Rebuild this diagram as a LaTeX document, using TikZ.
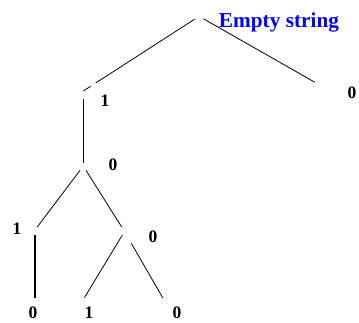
\documentclass[tikz,border=0pt]{standalone}
\usepackage{fontspec}
\setmainfont{Liberation Serif}
\usepackage{tikz}
\tikzset{point/.style = {inner sep = 0pt, minimum size = 0pt}}
\tikzset{lbl/.style = {anchor = base, inner sep = 0pt, font = \fontsize{17.5}{18}\selectfont\bfseries}}
\tikzset{edge/.style = {-, line width = 0.8pt}}
\tikzset{stem/.style = {-, line width = 1.6pt}}

\begin{document}
\begin{tikzpicture}[x = 1pt, y = -1pt]
	\useasboundingbox (0, 0) rectangle (359, 322);

	\node[point] (r) at (199.1, 16.3) {};
	\node[point] (a) at (83.3, 91) {};
	\node[point] (b) at (319.3, 84.8) {};
	\node[point] (c) at (83.3, 166) {};
	\node[point] (d) at (35, 230) {};
	\node[point] (e) at (124.5, 231.5) {};
	\node[point] (f) at (35, 300) {};
	\node[point] (g) at (83, 300) {};
	\node[point] (h) at (164, 300) {};

	\node[lbl, text = blue, font = \fontsize{21.3}{22}\selectfont\bfseries] (rl) at (279, 27) {Empty string};
	\node[lbl] (al) at (105, 106) {1};
	\node[lbl] (bl) at (352, 98) {0};
	\node[lbl] (cl) at (113, 170) {0};
	\node[lbl] (dl) at (17, 234) {1};
	\node[lbl] (el) at (153, 242) {0};
	\node[lbl] (fl) at (33, 318.5) {0};
	\node[lbl] (gl) at (89, 318.5) {1};
	\node[lbl] (hl) at (177, 318.5) {0};

	\draw[edge, shorten <= 4.5pt, dash pattern = on 118pt off 6.4pt on 20pt] (r) to (a);
	\draw[edge, shorten <= 4.8pt, shorten >= 5pt] (r) to (b);
	\draw[stem, shorten <= 7.7pt, shorten >= 3.3pt] (a) to (c);
	\draw[edge, shorten <= 5pt, shorten >= 3.5pt] (c) to (d);
	\draw[edge, shorten <= 5pt, shorten >= 5pt] (c) to (e);
	\draw[stem, shorten <= 5pt, shorten >= 2pt] (d) to (f);
	\draw[edge, shorten <= 4pt, shorten >= 2.5pt] (e) to (g);
	\draw[edge, shorten <= 13pt, shorten >= 2pt] (e) to (h);
\end{tikzpicture}
\end{document}
